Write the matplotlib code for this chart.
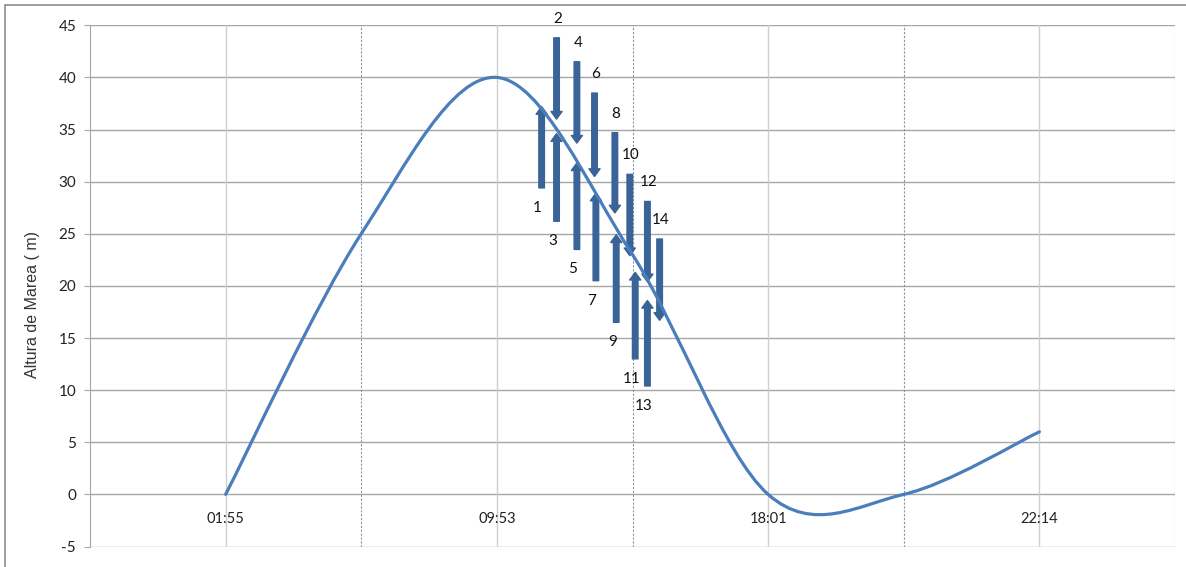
import matplotlib
matplotlib.use("Agg")
import matplotlib.pyplot as plt
from matplotlib.path import Path
from matplotlib.patches import PathPatch, Rectangle

plt.rcParams["axes.unicode_minus"] = False

# tide curve (category positions 1..7)
tide_x = [1, 2, 3, 4, 5, 6, 7]
tide_y = [0, 25, 40, 23, 0, 0, 6]

tick_pos = [1, 3, 5, 7]
tick_labels = ["01:55", "09:53", "18:01", "22:14"]

# numbered arrows: x position, start value, end value
arrow_num = [1, 2, 3, 4, 5, 6, 7, 8, 9, 10, 11, 12, 13, 14]
arrow_x = [3.33, 3.44, 3.44, 3.59, 3.59, 3.72, 3.73, 3.87, 3.88, 3.98, 4.02, 4.11, 4.11, 4.20]
arrow_from = [29.4, 43.8, 26.2, 41.5, 23.5, 38.5, 20.5, 34.7, 16.5, 30.7, 13.0, 28.1, 10.4, 24.5]
arrow_to = [37.2, 36.0, 34.6, 33.7, 31.8, 30.5, 28.9, 27.0, 24.9, 22.9, 21.3, 20.4, 18.6, 16.7]

line_color = "#4A7EBB"
arrow_color = "#3A6497"
txt_font = ["Lato", "DejaVu Sans"]

fig = plt.figure(figsize=(11.86, 5.67), dpi=100)
ax = fig.add_axes([90 / 1186, 1 - 546.5 / 567, (1175 - 90) / 1186, (546.5 - 25.3) / 567])

ax.set_xlim(0, 8)
ax.set_ylim(-5, 45)
ax.set_yticks(range(-5, 46, 5))
ax.set_xticks([])

# horizontal grid
for v in range(-5, 46, 5):
    ax.axhline(v, color="#A6A6A6", lw=1.0, zorder=1)
# vertical grid: solid at labelled categories, dashed in between
for xv in [1, 3, 5, 7]:
    ax.axvline(xv, color="#CFCFCF", lw=1.0, zorder=1)
for xv in [2, 4, 6, 8]:
    ax.axvline(xv, color="#7F96B4", lw=0.8, ls=(0, (2, 1.5)), zorder=1)

for s in ["top", "right", "bottom"]:
    ax.spines[s].set_visible(False)
ax.spines["left"].set_color("#A6A6A6")
ax.tick_params(axis="y", length=4, color="#A6A6A6", pad=6, labelsize=11, labelcolor="#222222")
for lab in ax.get_yticklabels():
    lab.set_family(txt_font)

# smoothed tide curve (Excel-style Catmull-Rom as Bezier segments)
pts = list(zip(tide_x, tide_y))
verts = [pts[0]]
codes = [Path.MOVETO]
n = len(pts)
for i in range(n - 1):
    p0 = pts[max(i - 1, 0)]
    p1 = pts[i]
    p2 = pts[i + 1]
    p3 = pts[min(i + 2, n - 1)]
    c1 = (p1[0] + (p2[0] - p0[0]) / 6, p1[1] + (p2[1] - p0[1]) / 6)
    c2 = (p2[0] - (p3[0] - p1[0]) / 6, p2[1] - (p3[1] - p1[1]) / 6)
    verts += [c1, c2, p2]
    codes += [Path.CURVE4] * 3
ax.add_patch(PathPatch(Path(verts, codes), fill=False, edgecolor=line_color, lw=2.3, zorder=4,
                       capstyle="round"))

# arrows with their numbers
for k, xa, y0, y1 in zip(arrow_num, arrow_x, arrow_from, arrow_to):
    ax.annotate("", xy=(xa, y1), xytext=(xa, y0),
                arrowprops=dict(arrowstyle="simple,head_length=0.55,head_width=0.8,tail_width=0.4",
                                color=arrow_color, shrinkA=0, shrinkB=0, mutation_scale=10),
                zorder=3)
    if y1 < y0:
        off = (1, 19)
    else:
        off = (-4, -20)
    ax.annotate(str(k), xy=(xa, y0), xytext=off, textcoords="offset pixels",
                ha="center", va="center", fontsize=11, family=txt_font, color="#111111", zorder=5)

# category labels under the zero line
for xp, lab in zip(tick_pos, tick_labels):
    ax.text(xp, -2.4, lab, ha="center", va="center", fontsize=10.5, family=txt_font, color="#222222")

fig.text(33 / 1186, 1 - 304 / 567, "Altura de Marea ( m)", rotation=90, ha="center", va="center",
         fontsize=11.5, family=["Liberation Sans", "DejaVu Sans"], color="#333333")

# outer chart border
fig.patches.append(Rectangle((5 / 1186, -0.1), 1.2, 1.1 - 5 / 567, transform=fig.transFigure,
                             fill=False, edgecolor="#8C8C8C", lw=1.2))

fig.savefig("out.png", dpi=100)
